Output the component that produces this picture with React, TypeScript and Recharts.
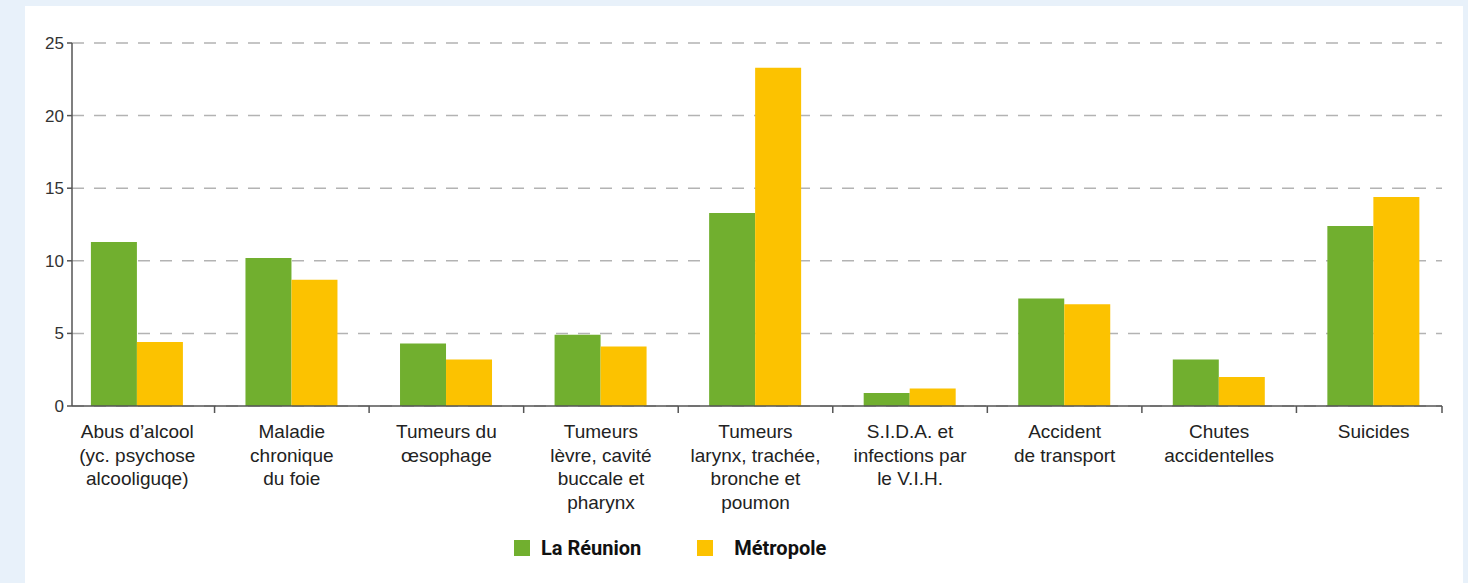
import { BarChart, Bar, XAxis, YAxis, CartesianGrid, Legend } from 'recharts';

const categories = [
  ['Abus d\u2019alcool', '(yc. psychose', 'alcooliguqe)'],
  ['Maladie', 'chronique', 'du foie'],
  ['Tumeurs du', '\u0153sophage'],
  ['Tumeurs', 'l\u00e8vre, cavit\u00e9', 'buccale et', 'pharynx'],
  ['Tumeurs', 'larynx, trach\u00e9e,', 'bronche et', 'poumon'],
  ['S.I.D.A. et', 'infections par', 'le V.I.H.'],
  ['Accident', 'de transport'],
  ['Chutes', 'accidentelles'],
  ['Suicides'],
];

const reunion = [11.3, 10.2, 4.3, 4.9, 13.3, 0.9, 7.4, 3.2, 12.4];
const metropole = [4.4, 8.7, 3.2, 4.1, 23.3, 1.2, 7.0, 2.0, 14.4];
const yTicks = [0, 5, 10, 15, 20, 25];

const GREEN = '#71af2f';
const YELLOW = '#fcc200';
const AXIS = '#555';
const AXIS_END = 1442;

const data = categories.map((lines, i) => ({
  name: lines.join(' '),
  reunion: reunion[i],
  metropole: metropole[i],
}));

function CategoryTick(props: any) {
  const { x, y, payload, index } = props;
  const half = payload.offset ?? 77;
  const tx = Math.min(x + half, AXIS_END);
  const lines = categories[index] || [];
  return (
    <g>
      <line x1={tx} x2={tx} y1={y} y2={y + 7} stroke={AXIS} strokeWidth={1.5} />
      <text x={x} y={y + 32} textAnchor="middle" fill="#222" fontSize={19} fontFamily="'Liberation Sans', Arial, sans-serif">
        {lines.map((l, i) => (
          <tspan key={i} x={x} dy={i === 0 ? 0 : 23.5}>
            {l}
          </tspan>
        ))}
      </text>
    </g>
  );
}

function LegendContent() {
  const item = (color: string, label: string, gap: number) => (
    <div style={{ display: 'flex', alignItems: 'center', marginRight: gap, height: 16 }}>
      <div style={{ width: 16, height: 16, background: color, marginRight: 11 }} />
      <span style={{ fontFamily: 'Roboto, sans-serif', fontWeight: 700, fontSize: 20, color: '#111', lineHeight: '16px' }}>
        {label}
      </span>
    </div>
  );
  return (
    <div
      style={{
        height: 47,
        paddingTop: 2,
        boxSizing: 'border-box',
        display: 'flex',
        alignItems: 'flex-start',
        paddingLeft: 514,
      }}
    >
      {item(GREEN, 'La R\u00e9union', 56)}
      {item(YELLOW, '\u00a0\u00a0M\u00e9tropole', 0)}
    </div>
  );
}

export default function App() {
  return (
    <div style={{ position: 'absolute', left: 0, top: 0, width: 1468, height: 583, background: '#e8f1fa', overflow: 'hidden' }}>
      <style>{'body{margin:0}'}</style>
      <div style={{ position: 'absolute', left: 25, top: 6, width: 1438, height: 577, background: '#fff' }} />
      <div style={{ position: 'absolute', left: 0, top: 0 }}>
        <BarChart
          width={1468}
          height={583}
          data={data}
          margin={{ top: 43, right: 26, left: 0, bottom: 0 }}
          barCategoryGap="20%"
          barGap={0}
        >
          <CartesianGrid vertical={false} stroke="#b3b3b3" strokeWidth={1.5} strokeDasharray="12 10" />
          <XAxis
            dataKey="name"
            height={130}
            padding={{ left: -12, right: -9 }}
            tickLine={false}
            tickSize={0}
            tickMargin={0}
            interval={0}
            stroke={AXIS}
            strokeWidth={1.5}
            tick={<CategoryTick />}
          />
          <YAxis
            width={72}
            domain={[0, 25]}
            ticks={yTicks}
            tickSize={5}
            tickMargin={3}
            stroke={AXIS}
            strokeWidth={1.5}
            tick={{ fill: '#333', fontSize: 17, fontFamily: "'Liberation Sans', Arial, sans-serif" }}
          />
          <Legend verticalAlign="bottom" wrapperStyle={{ top: 538, bottom: 'auto' }} content={<LegendContent />} />
          <Bar dataKey="reunion" name="La Réunion" fill={GREEN} isAnimationActive={false} />
          <Bar dataKey="metropole" name="Métropole" fill={YELLOW} isAnimationActive={false} />
        </BarChart>
      </div>
    </div>
  );
}
